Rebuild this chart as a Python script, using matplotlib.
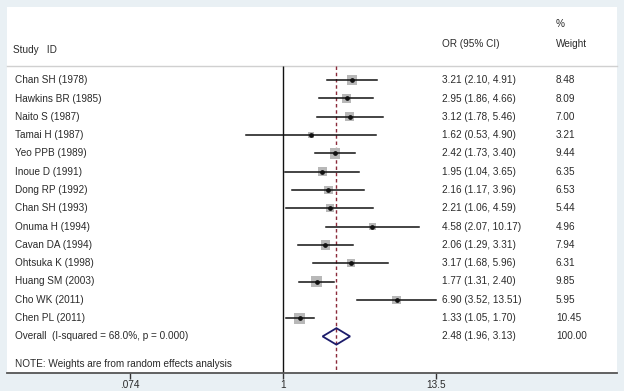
import matplotlib
matplotlib.use("Agg")
import matplotlib.pyplot as plt
import matplotlib.transforms as mtransforms
import numpy as np

# study data
studies = ["Chan SH (1978)", "Hawkins BR (1985)", "Naito S (1987)", "Tamai H (1987)",
           "Yeo PPB (1989)", "Inoue D (1991)", "Dong RP (1992)", "Chan SH (1993)",
           "Onuma H (1994)", "Cavan DA (1994)", "Ohtsuka K (1998)", "Huang SM (2003)",
           "Cho WK (2011)", "Chen PL (2011)"]
odds = [3.21, 2.95, 3.12, 1.62, 2.42, 1.95, 2.16, 2.21, 4.58, 2.06, 3.17, 1.77, 6.90, 1.33]
lower = [2.10, 1.86, 1.78, 0.53, 1.73, 1.04, 1.17, 1.06, 2.07, 1.29, 1.68, 1.31, 3.52, 1.05]
upper = [4.91, 4.66, 5.46, 4.90, 3.40, 3.65, 3.96, 4.59, 10.17, 3.31, 5.96, 2.40, 13.51, 1.70]
weights = [8.48, 8.09, 7.00, 3.21, 9.44, 6.35, 6.53, 5.44, 4.96, 7.94, 6.31, 9.85, 5.95, 10.45]

overall = 2.48
overall_lo = 1.96
overall_hi = 3.13
overall_label = "Overall  (I-squared = 68.0%, p = 0.000)"
note = "NOTE: Weights are from random effects analysis"
xticks = [0.074, 1, 13.5]
xticklabels = [".074", "1", "13.5"]

plt.rcParams["font.family"] = ["Liberation Sans", "DejaVu Sans"]
txt = "#2a2a2a"
fs = 7.2

fig = plt.figure(figsize=(6.24, 3.91), dpi=100, facecolor="#e9f0f4")
W, H = 624, 391
ax = fig.add_axes([7 / W, (H - 373) / H, 610 / W, 366 / H])
ax.set_facecolor("white")

# log axis: 1 sits at px 283, .074 and 13.5 at +-153 px
ppl = 153 / np.log(13.5)
ax.set_xscale("log")
ax.set_xlim(np.exp((7 - 283) / ppl), np.exp((617 - 283) / ppl))
ax.set_ylim(16, -4)

rows = np.arange(len(studies))
bt = mtransforms.blended_transform_factory(ax.transAxes, ax.transData)

# header
ax.text(6 / 610, -1.65, "Study   ID", transform=bt, fontsize=fs, color=txt, va="center")
ax.text(435 / 610, -2.0, "OR (95% CI)", transform=bt, fontsize=fs, color=txt, va="center")
ax.text(549 / 610, -3.05, "%", transform=bt, fontsize=fs, color=txt, va="center")
ax.text(549 / 610, -2.0, "Weight", transform=bt, fontsize=fs, color=txt, va="center")
ax.plot([0, 1], [-0.77, -0.77], transform=bt, color="#d0d0d0", lw=1.0, clip_on=False)

# reference lines
ax.vlines(1, -0.77, 16, color="#111111", lw=1.0)
ax.vlines(overall, -0.77, 16, color="#8b2a3a", lw=1.0, linestyles=(0, (2.5, 2)))

# studies
for i in rows:
    side_px = 11 * np.sqrt(weights[i] / 10.45)
    ax.scatter(odds[i], i, marker="s", s=(side_px * 0.72) ** 2, color="#b8b8b8",
               edgecolors="none", zorder=2)
    ax.plot([lower[i], upper[i]], [i, i], color="#111111", lw=1.1, zorder=3)
    ax.plot(odds[i], i, "o", color="#111111", ms=2.4, zorder=4)
    ax.text(8 / 610, i, studies[i], transform=bt, fontsize=fs, color=txt, va="center")
    ax.text(435 / 610, i, "%.2f (%.2f, %.2f)" % (odds[i], lower[i], upper[i]),
            transform=bt, fontsize=fs, color=txt, va="center")
    ax.text(549 / 610, i, "%.2f" % weights[i], transform=bt, fontsize=fs, color=txt, va="center")

# overall diamond
yo = len(studies)
ax.fill([overall_lo, overall, overall_hi, overall, overall_lo],
        [yo, yo - 0.45, yo, yo + 0.45, yo], facecolor="none", edgecolor="#1c1c6b",
        lw=1.3, zorder=4)
ax.text(8 / 610, yo, overall_label, transform=bt, fontsize=fs, color=txt, va="center")
ax.text(435 / 610, yo, "%.2f (%.2f, %.2f)" % (overall, overall_lo, overall_hi),
        transform=bt, fontsize=fs, color=txt, va="center")
ax.text(549 / 610, yo, "100.00", transform=bt, fontsize=fs, color=txt, va="center")
ax.text(8 / 610, 15.5, note, transform=bt, fontsize=fs, color=txt, va="center")

for s in ["top", "left", "right"]:
    ax.spines[s].set_visible(False)
ax.spines["bottom"].set_color("#555555")
ax.spines["bottom"].set_linewidth(1.3)
ax.set_yticks([])
ax.set_xticks(xticks)
ax.set_xticklabels(xticklabels)
ax.xaxis.set_minor_locator(matplotlib.ticker.NullLocator())
ax.tick_params(axis="x", length=4, width=1, color="#333333", labelsize=fs,
               labelcolor=txt, pad=1)

fig.savefig("out.png", dpi=100, facecolor=fig.get_facecolor())
